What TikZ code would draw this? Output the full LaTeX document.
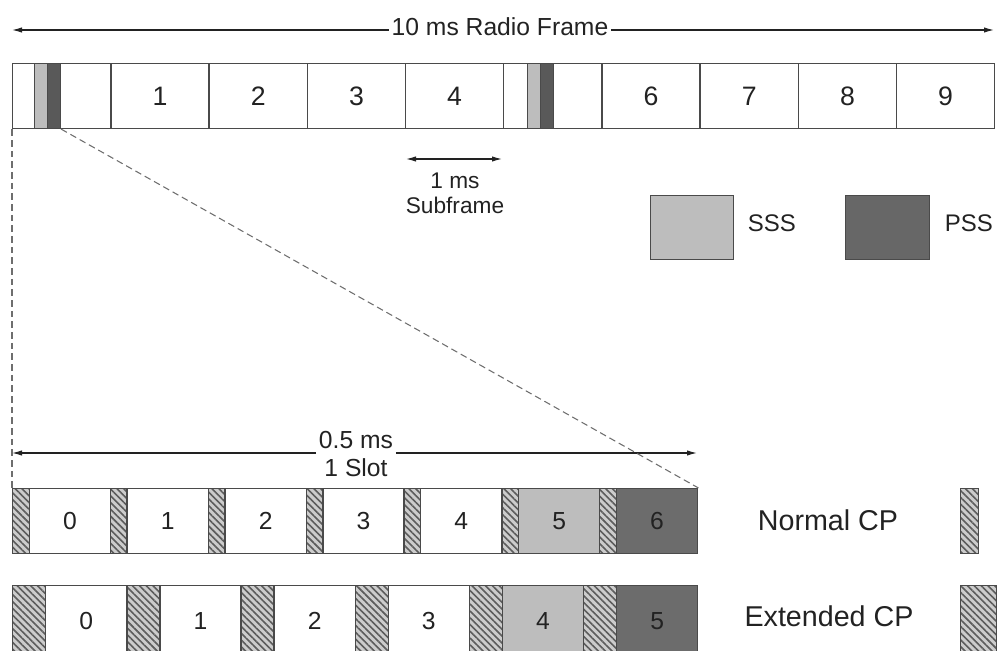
\documentclass[tikz,border=0pt]{standalone}
\usepackage{fontspec}
\setmainfont{Liberation Sans}
\usetikzlibrary{patterns.meta,arrows.meta}
\definecolor{ink}{HTML}{222222}
\definecolor{edge}{HTML}{4A4A4A}
\definecolor{sssc}{HTML}{BDBDBD}
\definecolor{pssc}{HTML}{676767}
\definecolor{pssbar}{HTML}{595959}
\definecolor{pssrow}{HTML}{6C6C6C}
\definecolor{hatchbg}{HTML}{CCCCCC}
\definecolor{hatchfg}{HTML}{5C5C5C}
\definecolor{dashc}{HTML}{6E6E6E}
\begin{document}
\begin{tikzpicture}[x=0.75pt,y=-0.75pt,
  every node/.style={text=ink},
  sf/.style={draw=edge, line width=1.1pt, fill=white, minimum width=98.2*0.75pt, minimum height=65*0.75pt, inner sep=0pt, anchor=north west, font=\fontsize{20}{24}\selectfont},
  bar/.style={draw=edge, line width=0.8pt, minimum height=65*0.75pt, minimum width=#1*0.75pt, inner sep=0pt, anchor=north west},
  sym/.style={draw=edge, line width=1.1pt, minimum height=65*0.75pt, minimum width=#1*0.75pt, inner sep=0pt, anchor=north west, font=\fontsize{18.5}{22}\selectfont},
  cp/.style={draw=edge, line width=1pt, minimum width=#1*0.75pt, inner sep=0pt, anchor=north west,
    preaction={fill=hatchbg},
    pattern={Lines[angle=-45,distance=3.6pt,line width=1.2pt]}, pattern color=hatchfg},
  lbl/.style={inner sep=2pt, font=\fontsize{18.5}{21}\selectfont, align=center},
  arr/.style={draw=ink, line width=0.8pt, -{Latex[length=7.5pt,width=4pt]}},
  guide/.style={draw=dashc, line width=0.8pt, dash pattern=on 5pt off 3pt},
]
\useasboundingbox (0,0) rectangle (1007,650);
\clip (0,0) rectangle (1007,650);

% radio frame
\foreach \i/\t in {0/,1/1,2/2,3/3,4/4,5/,6/6,7/7,8/8,9/9}
  \node[sf] (sf\i) at ({12+98.2*\i},63) {\t};
\node[bar=13, fill=sssc] (s0) at (34,63) {};
\node[bar=13, fill=pssbar] (p0) at (47,63) {};
\node[bar=13, fill=sssc] (s5) at (527,63) {};
\node[bar=13, fill=pssbar] (p5) at (540,63) {};

% 10 ms arrow
\node[lbl] (rf) at (500,27) {10 ms Radio Frame};
\coordinate (rfL) at (12,30);
\coordinate (rfR) at (994,30);
\draw[arr] (rf.west |- rfL) -- (rfL);
\draw[arr] (rf.east |- rfR) -- (rfR);

% 1 ms subframe
\coordinate (smL) at (406,159);
\coordinate (smR) at (502,159);
\draw[arr, {Latex[length=7.5pt,width=4pt]}-{Latex[length=7.5pt,width=4pt]}] (smL) -- (smR);
\node[lbl, font=\fontsize{17}{19}\selectfont] (sub) at (455,193) {1 ms\\Subframe};

% legend SSS/PSS
\node[draw=edge, line width=1pt, fill=sssc, minimum width=83*0.75pt, minimum height=64*0.75pt, inner sep=0pt, anchor=north west] (lsss) at (650,195) {};
\node[lbl, font=\fontsize{18}{20}\selectfont, anchor=west] (tsss) at (745,223) {SSS};
\node[draw=edge, line width=1pt, fill=pssc, minimum width=84*0.75pt, minimum height=64*0.75pt, inner sep=0pt, anchor=north west] (lpss) at (845,195) {};
\node[lbl, font=\fontsize{18}{20}\selectfont, anchor=west] (tpss) at (942,223) {PSS};

% normal CP slot
\foreach \i/\f in {0/white,1/white,2/white,3/white,4/white,5/sssc,6/pssrow}{
  \node[cp=16.5, minimum height=65*0.75pt] (ncp\i) at ({12+97.86*\i},488) {};
  \node[sym=81.36, fill=\f] (n\i) at ({28.5+97.86*\i},488) {\i};
}
% extended CP slot
\foreach \i/\f in {0/white,1/white,2/white,3/white,4/sssc,5/pssrow}{
  \node[cp=33, minimum height=70*0.75pt] (ecp\i) at ({12+114.17*\i},585) {};
  \node[sym=81.17, minimum height=70*0.75pt, fill=\f, text height=13pt] (e\i) at ({45+114.17*\i},585) {\i};
}

% slot arrow
\node[lbl] (sl) at (356,454) {0.5 ms\\1 Slot};
\coordinate (slL) at (12,453);
\coordinate (slR) at (697,453);
\draw[arr] (sl.west |- slL) -- (slL);
\draw[arr] (sl.east |- slR) -- (slR);

% zoom guides
\draw[guide] (sf0.south west) -- (ncp0.north west);
\draw[guide] (p0.south east) -- (n6.north east);

% CP legend
\node[font=\fontsize{21.5}{24}\selectfont] (tn) at (828,520) {Normal CP};
\node[font=\fontsize{21.5}{24}\selectfont] (te) at (829,616) {Extended CP};
\node[cp=18, minimum height=65*0.75pt] (lncp) at (960,488) {};
\node[cp=36, minimum height=70*0.75pt] (lecp) at (960,585) {};
\end{tikzpicture}
\end{document}
